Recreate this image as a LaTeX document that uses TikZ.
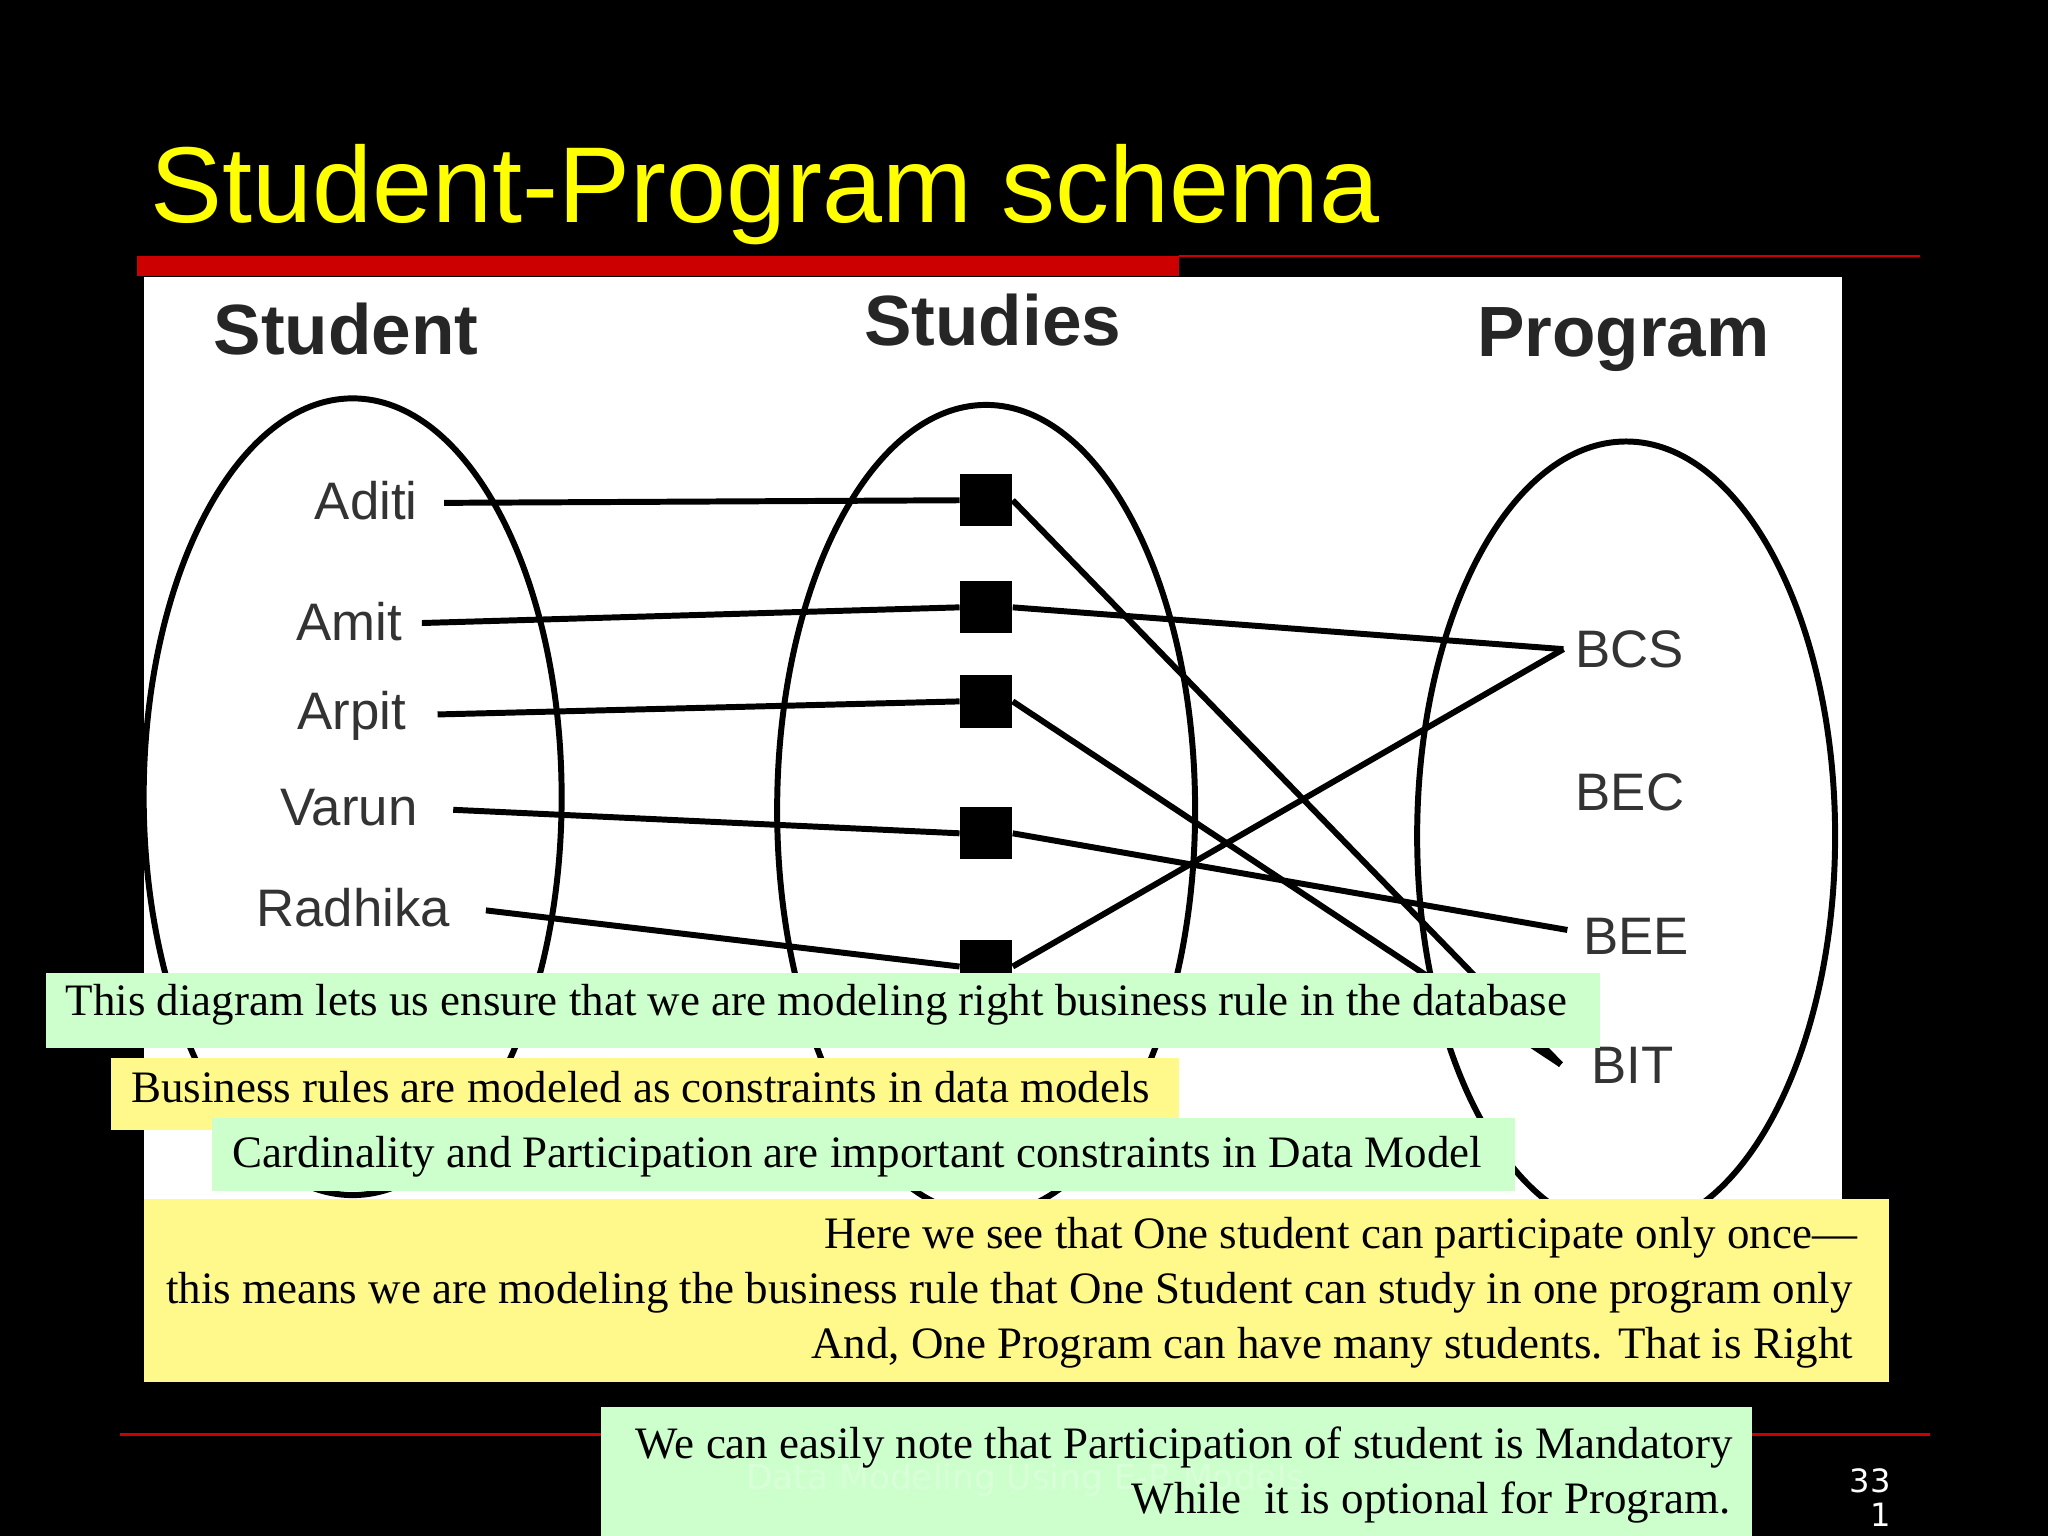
\documentclass[tikz,border=0pt]{standalone}
\usepackage{fontspec}
\setmainfont{Liberation Serif}
\newfontfamily\sans{Liberation Sans}
\newfontfamily\dv{DejaVu Sans}
\begin{document}
\begin{tikzpicture}[x=0.02cm,y=-0.02cm,
  lbl/.style={font=\sans\fontsize{23}{26}\selectfont,text=black!80,inner sep=0pt},
  hd/.style={font=\sans\bfseries\fontsize{31}{34}\selectfont,text=black!85,inner sep=0pt},
  sq/.style={fill=black,minimum size=0.8cm,inner sep=0pt},
  ln/.style={line width=2.6pt},
  note/.style={font=\fontsize{19.6}{23}\selectfont,inner sep=0pt,anchor=west}]
\useasboundingbox (0,0) rectangle (1568,1176);
\fill[black] (0,0) rectangle (1568,1176);
\node[anchor=base west,font=\sans\fontsize{47}{52}\selectfont,text={rgb,255:red,255;green,255;blue,0},inner sep=0pt] (title) at (115,170) {Student-Program schema};
\fill[red!80!black] (105,196) rectangle (903,211);
\draw[red!80!black,line width=1.2pt] (903,196) -- (1470,196);
\fill[white] (110,212) rectangle (1410,995);
\draw[ln] (270,610) ellipse [x radius=160,y radius=305];
\draw[ln] (755,620) ellipse [x radius=160,y radius=310];
\draw[ln] (1245,640) ellipse [x radius=160,y radius=302];
\node[hd] (hs) at (265,252) {Student};
\node[hd] (hst) at (760,245) {Studies};
\node[hd] (hp) at (1243,260) {Program};
\node[lbl,anchor=east] (aditi) at (320,383) {Aditi};
\node[lbl,anchor=east] (amit) at (308,476) {Amit};
\node[lbl,anchor=east] (arpit) at (311,548) {Arpit};
\node[lbl,anchor=east] (varun) at (320,618) {Varun};
\node[lbl,anchor=east] (radhika) at (345,695) {Radhika};
\node[lbl,anchor=west] (bcs) at (1206,497) {BCS};
\node[lbl,anchor=west] (bec) at (1206,607) {BEC};
\node[lbl,anchor=west] (bee) at (1212,717) {BEE};
\node[lbl,anchor=west] (bit) at (1218,816) {BIT};
\node[sq] (s1) at (755,383) {};
\node[sq] (s2) at (755,465) {};
\node[sq] (s3) at (755,537) {};
\node[sq] (s4) at (755,638) {};
\node[sq] (s5) at (755,740) {};
\coordinate (pa) at (340,385); \coordinate (pm) at (323,477);
\coordinate (pr) at (335,547); \coordinate (pv) at (347,620);
\coordinate (pk) at (372,697);
\coordinate (qbcs) at (1197,497); \coordinate (qbee) at (1200,712); \coordinate (qbit) at (1195,815);
\draw[ln] (pa) -- (s1.west); \draw[ln] (pm) -- (s2.west); \draw[ln] (pr) -- (s3.west);
\draw[ln] (pv) -- (s4.west); \draw[ln] (pk) -- (s5.west);
\draw[ln] (s1.east) -- (qbit); \draw[ln] (s2.east) -- (qbcs); \draw[ln] (s3.east) -- (qbit);
\draw[ln] (s4.east) -- (qbee); \draw[ln] (s5.east) -- (qbcs);
\draw[red!80!black,line width=1.2pt] (92,1098) -- (1478,1098);
\fill[green!20] (35,745) rectangle (1225,802);
\node[note] (n1) at (50,769) {This diagram lets us ensure that we are modeling right business rule in the database};
\fill[yellow!45] (85,810) rectangle (903,865);
\node[note] (n2) at (100,832) {Business rules are modeled as constraints in data models};
\fill[green!20] (162,856) rectangle (1160,912);
\node[note] (n3) at (178,886) {Cardinality and Participation are important constraints in Data Model};
\fill[yellow!45] (110,918) rectangle (1446,1058);
\node[note,anchor=east] (n4) at (1422,948) {Here we see that One student can participate only once—};
\node[note] (n5) at (127,990) {this means we are modeling the business rule that One Student can study in one program only};
\node[note,anchor=east] (n6) at (1419,1032) {And, One Program can have many students. That is Right};
\fill[green!20] (460,1077) rectangle (1341,1176);
\node[font=\dv\fontsize{15}{18}\selectfont,text=white!85!green,inner sep=0pt] (ft) at (785,1133) {Data Modeling Using E-R Models};
\node[note,anchor=east] (n7) at (1327,1108) {We can easily note that Participation of student is Mandatory};
\node[note,anchor=east] (n8) at (1325,1150) {While\ \ it is optional for Program.};
\node[font=\dv\fontsize{14}{16}\selectfont,text=white,inner sep=0pt] (pg) at (1432,1134) {33};
\node[font=\dv\fontsize{14}{16}\selectfont,text=white,inner sep=0pt] (pg2) at (1440,1160) {1};
\end{tikzpicture}
\end{document}
